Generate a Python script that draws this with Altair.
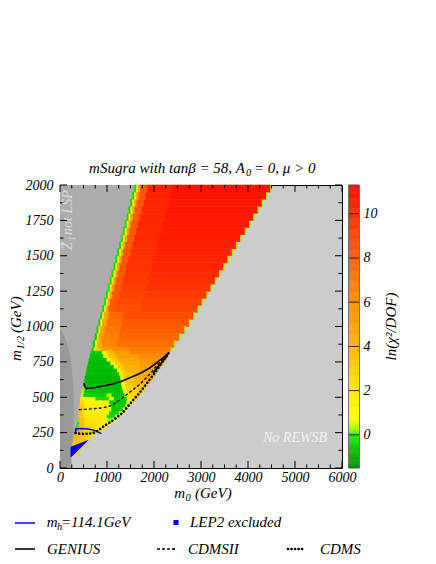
import altair as alt
import pandas as pd
import numpy as np

W, H = 282, 283
FONT = "Liberation Serif, Times New Roman, serif"

# ---------------- data ----------------
# upper heat-map rows (50 GeV tall, given by row bottom in m_1/2)
top_row_lo = [1100, 1150, 1200, 1250, 1300, 1350, 1400, 1450, 1500, 1550,
              1600, 1650, 1700, 1750, 1800, 1850, 1900, 1950]
top_left = [905, 945, 985, 1025, 1065, 1105, 1145, 1185, 1225, 1265,
            1305, 1345, 1385, 1425, 1465, 1505, 1545, 1585]
top_right = [2950, 3040, 3140, 3230, 3320, 3410, 3500, 3590, 3680, 3770,
             3860, 3960, 4050, 4140, 4230, 4320, 4410, 4500]
top_inner = [8.7, 8.9, 9.1, 9.3, 9.5, 9.6, 9.7, 9.8, 9.9, 10.0,
             10.1, 10.1, 10.2, 10.2, 10.3, 10.3, 10.4, 10.4]
top_main = [9.1, 9.3, 9.5, 9.7, 9.9, 10.1, 10.2, 10.3, 10.4, 10.5,
            10.6, 10.6, 10.7, 10.7, 10.8, 10.8, 10.9, 10.9]
edge_offset = [0, 40, 80, 130, 280, 800]      # GeV from the left boundary
edge_value = [-0.3, 1.5, 5.0, 8.4]
right_edge_value = 0.3

# middle rows, 50 GeV tall: row bottom -> (m0 start, m0 end, ln chi2/dof)
mid_rows = {
    1050: [(865, 905, -0.3), (905, 945, 1.5), (945, 1040, 5.0), (1040, 1350, 7.6), (1350, 2840, 8.7), (2840, 2860, 0.3)],
    1000: [(825, 865, -0.4), (865, 905, 1.5), (905, 1000, 5.0), (1000, 1330, 7.4), (1330, 2750, 8.4), (2750, 2770, 0.3)],
    950: [(785, 825, -0.5), (825, 865, 1.8), (865, 960, 5.0), (960, 1300, 7.1), (1300, 2650, 8.1), (2650, 2670, 0.3)],
    900: [(745, 790, -0.5), (790, 830, 2.0), (830, 930, 5.0), (930, 1250, 6.8), (1250, 2540, 7.7), (2540, 2560, 0.3)],
    850: [(705, 750, -0.6), (750, 800, 1.5), (800, 900, 4.5), (900, 1200, 6.4), (1200, 2430, 7.4), (2430, 2450, 0.3)],
}
# lower rows, 25 GeV tall
low_rows = {
    825: [(675, 720, -0.4), (720, 770, 1.4), (770, 870, 3.4), (870, 1100, 5.0), (1100, 1500, 6.2), (1500, 2360, 6.9), (2360, 2380, 0.3)],
    800: [(655, 900, -0.5), (900, 1000, 1.2), (1000, 1150, 3.5), (1150, 1500, 5.4), (1500, 2330, 6.6)],
    775: [(637, 930, -0.7), (930, 1030, 1.3), (1030, 1200, 3.5), (1200, 1700, 5.2), (1700, 2280, 6.2)],
    750: [(618, 1000, -0.8), (1000, 1100, 1.3), (1100, 1250, 3.3), (1250, 1700, 4.8), (1700, 2230, 5.8)],
    725: [(600, 1080, -0.8), (1080, 1170, 1.3), (1170, 1300, 3.1), (1300, 1700, 4.5), (1700, 2180, 5.5)],
    700: [(582, 1150, -0.8), (1150, 1230, 1.3), (1230, 1350, 3.0), (1350, 1700, 4.3), (1700, 2130, 5.2)],
    675: [(565, 1220, -0.8), (1220, 1300, 1.4), (1300, 1400, 3.0), (1400, 1700, 4.2), (1700, 2080, 5.0)],
    650: [(548, 1260, -0.8), (1260, 1340, 1.4), (1340, 1600, 3.6), (1600, 2030, 4.7)],
    625: [(533, 1290, -0.9), (1290, 1360, 1.5), (1360, 1600, 3.6), (1600, 1980, 4.4)],
    600: [(518, 1300, -0.9), (1300, 1380, 1.3), (1380, 1600, 3.3), (1600, 1920, 4.2)],
    575: [(502, 1310, -0.8), (1310, 1390, 1.2), (1390, 1550, 3.0), (1550, 1860, 3.8)],
    550: [(486, 530, 0.3), (530, 1320, -0.8), (1320, 1400, 1.2), (1400, 1560, 2.8), (1560, 1800, 3.6)],
    525: [(470, 520, 0.4), (520, 1350, -0.7), (1350, 1430, 1.2), (1430, 1740, 3.0)],
    500: [(455, 500, 0.6), (500, 1000, -0.5), (1000, 1100, 0.4), (1100, 1380, -0.7), (1380, 1460, 1.2), (1460, 1680, 2.8)],
    475: [(442, 500, 1.5), (500, 760, 1.0), (760, 1050, -0.3), (1050, 1150, 0.6), (1150, 1430, -0.6), (1430, 1610, 2.2)],
    450: [(430, 520, 2.6), (520, 800, 1.5), (800, 1050, 1.0), (1050, 1420, -0.6), (1420, 1540, 2.0)],
    425: [(420, 520, 3.0), (520, 1000, 1.7), (1000, 1100, 0.5), (1100, 1400, -0.6), (1400, 1470, 1.5)],
    400: [(411, 510, 3.2), (510, 1000, 1.8), (1000, 1100, 0.6), (1100, 1340, -0.6), (1340, 1400, 1.2)],
    375: [(403, 500, 3.4), (500, 950, 1.9), (950, 1050, 1.0), (1050, 1260, -0.5), (1260, 1320, 1.0)],
    350: [(395, 500, 3.4), (500, 900, 2.0), (900, 1000, 1.4), (1000, 1180, -0.3), (1180, 1240, 1.2)],
    325: [(385, 425, 0.2), (425, 530, 3.6), (530, 850, 2.2), (850, 1000, 1.6), (1000, 1100, 0.3), (1100, 1160, 1.5)],
    300: [(372, 412, -0.2), (412, 520, 3.8), (520, 800, 2.4), (800, 1000, 1.6), (1000, 1060, 1.0)],
    275: [(356, 396, -0.3), (396, 500, 4.0), (500, 760, 2.8), (760, 960, 2.0)],
    250: [(340, 380, -0.3), (380, 480, 4.2), (480, 700, 3.0), (700, 880, 2.2)],
    225: [(320, 440, 4.2), (440, 620, 3.0), (620, 760, 2.4)],
    200: [(300, 420, 4.0), (420, 560, 3.2), (560, 640, 2.6)],
    175: [(282, 560, 3.6)],
    150: [(268, 500, 3.4)],
    125: [(255, 440, 3.3)],
    100: [(247, 400, 3.2)],
}

# LEP2 excluded (blue) region
lep_m0 = [225, 600]
lep_lo = [72, 195]
lep_hi = [150, 198]

# "Z1 not LSP" region boundary and the darker strip
z1_m12 = [0, 72, 150, 220, 340, 460, 575, 690, 810, 925, 1040, 1500, 2000]
z1_m0 = [270, 240, 265, 335, 400, 440, 510, 582, 668, 760, 852, 1235, 1625]
ds_m12 = [0, 100, 250, 400, 550, 650, 750, 850, 920, 960, 985]
ds_m0 = [210, 245, 280, 295, 290, 265, 235, 180, 110, 50, 0]

# contours
mh_m0 = [330, 335, 450, 600, 750, 880]
mh_m12 = [245, 276, 280, 276, 264, 243]
genius_m0 = [510, 525, 560, 700, 900, 1100, 1300, 1500, 1700, 1900, 2100, 2250, 2320, 2250, 2150, 2050, 1980]
genius_m12 = [600, 578, 563, 565, 578, 592, 612, 640, 668, 705, 755, 795, 818, 780, 740, 700, 670]
cdmsii_m0 = [400, 550, 700, 900, 1050, 1200, 1350, 1500, 1700, 1900, 2130, 2320]
cdmsii_m12 = [412, 415, 418, 425, 437, 462, 500, 540, 592, 660, 750, 815]
cdms_m0 = [330, 400, 500, 600, 700, 800, 920, 1140, 1330, 1480, 1690, 1990, 2200, 2300]
cdms_m12 = [248, 243, 241, 242, 246, 262, 292, 340, 390, 450, 530, 660, 760, 808]

# axes / colour bar
x_major = [0, 1000, 2000, 3000, 4000, 5000, 6000]
x_minor = [250, 500, 750, 1250, 1500, 1750, 2250, 2500, 2750, 3250, 3500, 3750,
           4250, 4500, 4750, 5250, 5500, 5750]
y_major = [0, 250, 500, 750, 1000, 1250, 1500, 1750, 2000]
y_minor = [125, 375, 625, 875, 1125, 1375, 1625, 1875]
cb_ticks = [0, 2, 4, 6, 8, 10]
cb_domain = [-1.5, 11.3]
c_dom = [-1.5, -1.0, -0.5, 0.0, 0.4, 0.8, 2.0, 3.0, 4.0, 5.0, 6.0, 7.0, 8.0, 9.0, 10.0, 11.3]
c_rng = ['#008c00', '#00b000', '#00d000', '#30e800', '#c0ff00', '#ffff00', '#ffea00', '#ffd000',
         '#ffb800', '#ffa200', '#ff9000', '#ff7800', '#ff6000', '#ff4600', '#ff2c00', '#ff0800']

# ---------------- build tables ----------------
recs = []
for lo, L, R, inner, main in zip(top_row_lo, top_left, top_right, top_inner, top_main):
    br = [L + o for o in edge_offset] + [R - 20, R]
    vals = edge_value + [inner, main, right_edge_value]
    for a, b, v in zip(br[:-1], br[1:], vals):
        recs.append(dict(x0=a, x1=b, y0=lo, y1=lo + 50, v=v))
for rows, height in ((mid_rows, 50), (low_rows, 25)):
    for lo, segs in rows.items():
        for a, b, v in segs:
            recs.append(dict(x0=a, x1=b, y0=lo, y1=lo + height, v=v))
heat_df = pd.DataFrame(recs)

xs = alt.Scale(domain=[0, 6000], nice=False, zero=False)
ys = alt.Scale(domain=[0, 2000], nice=False, zero=False)
cscale = alt.Scale(domain=c_dom, range=c_rng, interpolate='rgb')
xaxis = alt.Axis(values=x_major, format='d', ticks=False, domain=False, grid=False,
                 labelFont=FONT, labelFontStyle='italic', labelFontSize=14, labelColor='black',
                 labelPadding=2, labelOverlap=False, labelFlush=False, title=None)
yaxis = alt.Axis(values=y_major, format='d', ticks=False, domain=False, grid=False,
                 labelFont=FONT, labelFontStyle='italic', labelFontSize=14, labelColor='black',
                 labelPadding=7, labelOverlap=False, labelFlush=False, title=None)


def X(f):
    return alt.X(f, type='quantitative', scale=xs, axis=xaxis)


def Y(f):
    return alt.Y(f, type='quantitative', scale=ys, axis=yaxis)


one = pd.DataFrame({'a': [0]})


def txt(s, x, y, size=15, align='left', angle=0, color='black', style='italic'):
    return alt.Chart(one).mark_text(text=s, align=align, baseline='alphabetic', angle=angle,
                                    font=FONT, fontSize=size, fontStyle=style, color=color).encode(
        x=alt.value(x), y=alt.value(y))


z1 = alt.Chart(pd.DataFrame({'m12': z1_m12, 'm0': z1_m0, 'z': 0})).mark_area(
    orient='horizontal', color='#acacac').encode(y=Y('m12'), x=X('m0'), x2='z')
dstrip = alt.Chart(pd.DataFrame({'m12': ds_m12, 'm0': ds_m0, 'z': 0})).mark_area(
    orient='horizontal', color='#999999').encode(y=Y('m12'), x=X('m0'), x2='z')
heat = alt.Chart(heat_df).mark_rect(strokeWidth=0.6).encode(
    x=X('x0'), x2='x1', y=Y('y0'), y2='y1',
    color=alt.Color('v:Q', scale=cscale, legend=None),
    stroke=alt.Stroke('v:Q', scale=cscale, legend=None))
lep = alt.Chart(pd.DataFrame({'m0': lep_m0, 'lo': lep_lo, 'hi': lep_hi})).mark_area(
    color='#0000ff').encode(x=X('m0'), y=Y('lo'), y2='hi')


def contour(xv, yv, **kw):
    df = pd.DataFrame({'m0': xv, 'm12': yv, 'i': range(len(xv))})
    return alt.Chart(df).mark_line(**kw).encode(x=X('m0'), y=Y('m12'), order='i:Q')


c_mh = contour(mh_m0, mh_m12, color='#0000ff', strokeWidth=1.5)
c_gen = contour(genius_m0, genius_m12, color='black', strokeWidth=1.6)
c_cd2 = contour(cdmsii_m0, cdmsii_m12, color='black', strokeWidth=1.3, strokeDash=[3, 2])
c_cdm = contour(cdms_m0, cdms_m12, color='black', strokeWidth=2.6, strokeDash=[0.1, 3.6], strokeCap='round')


def ticks(vals, axis, length):
    df = pd.DataFrame({'v': vals})
    base = alt.Chart(df).mark_rule(color='black', strokeWidth=1)
    if axis == 'x':
        return (base.encode(x=X('v'), y=alt.value(H), y2=alt.value(H - length)) +
                base.encode(x=X('v'), y=alt.value(0), y2=alt.value(length)))
    return (base.encode(y=Y('v'), x=alt.value(0), x2=alt.value(length)) +
            base.encode(y=Y('v'), x=alt.value(W), x2=alt.value(W - length)))


tick_layers = [ticks(x_major, 'x', 7), ticks(x_minor, 'x', 3.5),
               ticks(y_major, 'y', 7), ticks(y_minor, 'y', 3.5)]

texts = [
    # title
    txt('mSugra with tanβ = 58, A', 185, -12, align='right'),
    txt('0', 186, -9, size=10.5),
    txt('= 0, μ > 0', 194, -12),
    # x axis title
    txt('m', 125, 313, align='right'),
    txt('0', 125.5, 316, size=10.5),
    txt('(GeV)', 135, 313),
    # y axis title (rotated)
    txt('m', -39.5, 176, angle=270),
    txt('1/2', -36.5, 164.5, size=10.5, angle=270),
    txt('(GeV)', -39.5, 148, angle=270),
    # colour bar title
    txt('ln(χ²/DOF)', 336, 141.5, align='center', angle=270),
    # region labels
    txt('Z̃', 12, 65, size=14, angle=270, color='#dcdcdc'),
    txt('1', 15, 56, size=10, angle=270, color='#dcdcdc'),
    txt('not LSP', 12, 50, size=14, angle=270, color='#dcdcdc'),
    txt('No REWSB', 203, 257, size=14, color='#f4f4f4'),
    # legend
    txt('m', -13.3, 342),
    txt('h', -3, 345, size=10.5),
    txt('=114.1GeV', 1, 342),
    txt('LEP2 excluded', 130, 342),
    txt('GENIUS', -13, 368.5),
    txt('CDMSII', 128, 368.5),
    txt('CDMS', 260, 368.5),
]


def lrule(x1, x2, y, **kw):
    return alt.Chart(one).mark_rule(**kw).encode(x=alt.value(x1), x2=alt.value(x2), y=alt.value(y))


legend_marks = [
    lrule(-45, -25, 338, color='#0000ff', strokeWidth=1.5),
    alt.Chart(one).mark_square(color='#0000ff', size=26, opacity=1).encode(x=alt.value(116), y=alt.value(337.5)),
    lrule(-45, -25, 364, color='black', strokeWidth=1.6),
    lrule(97, 116, 364, color='black', strokeWidth=1.3, strokeDash=[3, 2]),
    lrule(228, 243, 364, color='black', strokeWidth=2.6, strokeDash=[0.1, 3.4], strokeCap='round'),
]

main = alt.layer(z1, dstrip, heat, lep, c_mh, c_gen, c_cd2, c_cdm, *tick_layers, *texts, *legend_marks)

# colour bar
cb_lo = np.round(np.arange(cb_domain[0], cb_domain[1], 0.05), 3)
cb_df = pd.DataFrame({'lo': cb_lo, 'hi': np.minimum(cb_lo + 0.05, cb_domain[1]), 'v': cb_lo + 0.025})
cbs = alt.Scale(domain=cb_domain, nice=False, zero=False)
cbaxis = alt.Axis(orient='right', offset=17, values=cb_ticks, ticks=False, domain=False, grid=False,
                  labelFont=FONT, labelFontStyle='italic', labelFontSize=14, labelColor='black',
                  labelPadding=4, labelOverlap=False, labelFlush=False, title=None)
cbar = alt.Chart(cb_df).mark_rect(strokeWidth=0.5).encode(
    y=alt.Y('lo:Q', scale=cbs, axis=cbaxis), y2='hi:Q',
    x=alt.value(289), x2=alt.value(299),
    color=alt.Color('v:Q', scale=cscale, legend=None),
    stroke=alt.Stroke('v:Q', scale=cscale, legend=None))
cbt = alt.Chart(pd.DataFrame({'v': cb_ticks})).mark_rule(color='#3a2000', strokeWidth=1).encode(
    y=alt.Y('v:Q', scale=cbs, axis=cbaxis), x=alt.value(289), x2=alt.value(299))
cbframe = alt.Chart(one).mark_rect(fill=None, stroke='#555555', strokeWidth=0.8).encode(
    x=alt.value(288.5), x2=alt.value(299.5), y=alt.value(0), y2=alt.value(H))
cb = alt.layer(cbar, cbt, cbframe)

chart = alt.layer(main, cb).resolve_scale(y='independent').properties(
    width=W, height=H,
    padding={'left': 52, 'top': 177, 'right': 86, 'bottom': 88},
    autosize=alt.AutoSizeParams(type='none'),
).configure_view(stroke='black', strokeWidth=1, fill='#cccccc')

chart.save("out.html", embed_options={"renderer": "svg", "actions": False})
